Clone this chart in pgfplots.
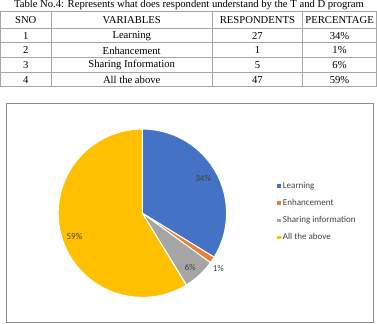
\documentclass[border=0pt]{standalone}
\usepackage{pgfplots}
\pgfplotsset{compat=1.18}
\usepackage{pgfplotstable}
\usepackage{fontspec}
\setmainfont{Liberation Serif}
\newfontfamily\calib{Carlito}
\definecolor{cA}{HTML}{4472C4}
\definecolor{cB}{HTML}{ED7D31}
\definecolor{cC}{HTML}{A5A5A5}
\definecolor{cD}{HTML}{FFC000}
\definecolor{tline}{HTML}{A6A6A6}

\pgfplotstableread{
sno label value
1 Learning 27
2 Enhancement 1
3 Sharing 5
4 All 47
}\pietable
\pgfplotstablegetelem{0}{value}\of\pietable \edef\vA{\pgfplotsretval}%
\pgfplotstablegetelem{1}{value}\of\pietable \edef\vB{\pgfplotsretval}%
\pgfplotstablegetelem{2}{value}\of\pietable \edef\vC{\pgfplotsretval}%
\pgfplotstablegetelem{3}{value}\of\pietable \edef\vD{\pgfplotsretval}%
\pgfmathsetmacro\tot{\vA+\vB+\vC+\vD}%
\pgfmathsetmacro\aA{90}%
\pgfmathsetmacro\aB{\aA-360*(\vA/\tot)}%
\pgfmathsetmacro\aC{\aB-360*(\vB/\tot)}%
\pgfmathsetmacro\aD{\aC-360*(\vC/\tot)}%
\pgfmathsetmacro\aE{\aD-360*(\vD/\tot)}%

\begin{document}%
\begin{tikzpicture}
\begin{axis}[
  scale only axis, width=377pt, height=321pt,
  xmin=0, xmax=377, ymin=0, ymax=321,
  hide axis, clip=false,
  legend style={at={(axis cs:275,144)}, anchor=north west, draw=none, fill=none,
    font=\calib\fontsize{8.9}{10}\selectfont, row sep=5.3pt, inner sep=0pt,
    text=black!75, cells={anchor=west}},
  legend cell align=left,
  legend image code/.code={\fill[#1, draw=none] (0pt,-1.7pt) rectangle (3.4pt,1.7pt);},
]
% caption (top cut off by the page edge)
\begin{pgfinterruptboundingbox}
\node[anchor=base, inner sep=0pt, font=\fontsize{10.5}{12}\selectfont] at (axis cs:188,314) {Table No.4: Represents what does respondent understand by the T and D program};
\end{pgfinterruptboundingbox}
% table grid
\foreach \yy in {11,27.5,42,56.5,71,85} {\edef\tmp{\noexpand\draw[tline, line width=0.8pt] (axis cs:2,321-\yy) -- (axis cs:373,321-\yy);}\tmp}
\foreach \xx in {2,52,211,300,373} {\edef\tmp{\noexpand\draw[tline, line width=0.8pt] (axis cs:\xx,310) -- (axis cs:\xx,236);}\tmp}
\begin{scope}[every node/.style={inner sep=0pt, font=\fontsize{10.5}{12}\selectfont}]
\node at (axis cs:27,301.5) {SNO};
\node at (axis cs:131.5,301.5) {VARIABLES};
\node at (axis cs:255.5,301.5) {RESPONDENTS};
\node at (axis cs:336.5,301.5) {PERCENTAGE};
\node at (axis cs:27,286) {1}; \node at (axis cs:131.5,286) {Learning}; \node at (axis cs:255.5,286) {27}; \node at (axis cs:336.5,286) {34\%};
\node at (axis cs:27,271.5) {2}; \node at (axis cs:131.5,271.5) {Enhancement}; \node at (axis cs:255.5,271.5) {1}; \node at (axis cs:336.5,271.5) {1\%};
\node at (axis cs:27,257) {3}; \node at (axis cs:131.5,257) {Sharing Information}; \node at (axis cs:255.5,257) {5}; \node at (axis cs:336.5,257) {6\%};
\node at (axis cs:27,242.5) {4}; \node at (axis cs:131.5,242.5) {All the above}; \node at (axis cs:255.5,242.5) {47}; \node at (axis cs:336.5,242.5) {59\%};
\end{scope}
% chart frame
\draw[black!45, line width=0.8pt] (axis cs:8,3) rectangle (axis cs:370,219);
\addplot[fill=cA, draw=white, line width=1pt, domain=\aB:\aA, samples=80, variable=\t]
  ({142+83*cos(\t)},{111+83*sin(\t)}) -- (axis cs:142,111) -- cycle;
\addlegendentry{Learning}
\addplot[fill=cB, draw=white, line width=1pt, domain=\aC:\aB, samples=10, variable=\t]
  ({142+83*cos(\t)},{111+83*sin(\t)}) -- (axis cs:142,111) -- cycle;
\addlegendentry{Enhancement}
\addplot[fill=cC, draw=white, line width=1pt, domain=\aD:\aC, samples=20, variable=\t]
  ({142+83*cos(\t)},{111+83*sin(\t)}) -- (axis cs:142,111) -- cycle;
\addlegendentry{Sharing information}
\addplot[fill=cD, draw=white, line width=1pt, domain=\aE:\aD, samples=120, variable=\t]
  ({142+83*cos(\t)},{111+83*sin(\t)}) -- (axis cs:142,111) -- cycle;
\addlegendentry{All the above}
\begin{scope}[every node/.style={font=\calib\fontsize{8.9}{10}\selectfont, text=black!75, inner sep=0pt}]
\node at (axis cs:202,145) {34\%};
\node at (axis cs:217,57) {1\%};
\node at (axis cs:189,58) {6\%};
\node at (axis cs:75,88) {59\%};
\end{scope}
\end{axis}
\end{tikzpicture}%
\end{document}
